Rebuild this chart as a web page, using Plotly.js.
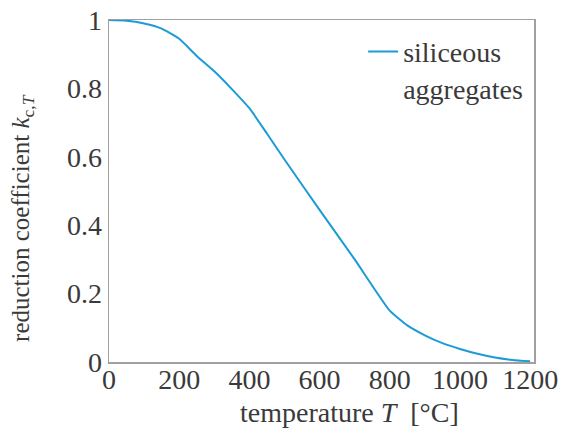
<!DOCTYPE html>
<html>
<head>
<meta charset="utf-8">
<script src="https://cdn.plot.ly/plotly-3.0.1.min.js"></script>
<style>html,body{margin:0;padding:0;background:#fff;}#chart{width:585px;height:435px;}</style>
</head>
<body>
<div id="chart"></div>
<script>
const temperature = [0, 50, 100, 150, 200, 250, 300, 350, 400, 450, 500, 600, 700, 800, 850, 900, 950, 1000, 1050, 1100, 1150, 1200];
const kcT = [1.0, 0.998, 0.99, 0.975, 0.945, 0.895, 0.85, 0.798, 0.742, 0.668, 0.592, 0.445, 0.30, 0.15, 0.107, 0.078, 0.055, 0.038, 0.024, 0.013, 0.006, 0.002];
const seriesName = "siliceous<br>aggregates";
const xTicks = [0, 200, 400, 600, 800, 1000, 1200];
const yTicks = [0, 0.2, 0.4, 0.6, 0.8, 1];
const yTickText = ["0", "0.2", "0.4", "0.6", "0.8", "1"];

const fam = "Liberation Serif, Times New Roman, serif";
const col = "#3a3a3a";
const tickFont = {family: fam, size: 28, color: col};
const legendFont = {family: fam, size: 28, color: col};
const xTitleFont = {family: fam, size: 28, color: col};
const yTitleFont = {family: fam, size: 25, color: col};

Plotly.newPlot("chart", [{
  x: temperature, y: kcT, type: "scatter", mode: "lines", name: seriesName,
  line: {color: "#1c9bd7", width: 2, shape: "spline", smoothing: 0.5}
}], {
  width: 585, height: 435,
  margin: {l: 109, r: 51, t: 20, b: 73},
  paper_bgcolor: "#ffffff", plot_bgcolor: "#ffffff",
  font: tickFont,
  showlegend: true,
  legend: {x: 0.598, y: 0.98, xanchor: "left", yanchor: "top", bgcolor: "rgba(0,0,0,0)", font: legendFont, valign: "top"},
  xaxis: {
    range: [0, 1211], tickvals: xTicks, ticktext: xTicks.map(String),
    showgrid: false, zeroline: false, showline: true, linecolor: "#a0a0a0", linewidth: 1.5, mirror: true,
    ticks: "", tickfont: tickFont, ticklabelstandoff: -8
  },
  yaxis: {
    range: [0, 1], tickvals: yTicks, ticktext: yTickText,
    showgrid: false, zeroline: false, showline: true, linecolor: "#a0a0a0", linewidth: 1.5, mirror: true,
    ticks: "", tickfont: tickFont
  },
  annotations: [{
    xref: "paper", yref: "paper", x: 0.565, y: -0.149, xanchor: "center", yanchor: "middle",
    text: "temperature <i>T</i>  [°C]", showarrow: false, font: xTitleFont
  }, {
    xref: "paper", yref: "paper", x: -0.205, y: 0.421, xanchor: "center", yanchor: "middle", textangle: -90,
    text: "reduction coefficient <i>k</i><sub>c,<i>T</i></sub>", showarrow: false, font: yTitleFont
  }]
}, {displayModeBar: false, staticPlot: true});
</script>
</body>
</html>
